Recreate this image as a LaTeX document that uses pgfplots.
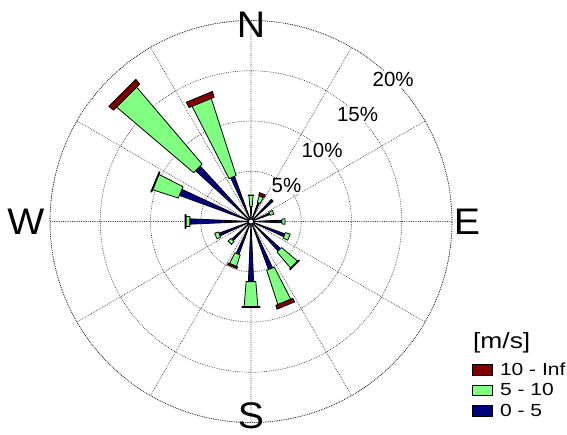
\documentclass[border=0pt]{standalone}
\usepackage{pgfplots}
\pgfplotsset{compat=1.18}
\usepackage{pgfplotstable}
\usepgfplotslibrary{polar}
\usepackage{fontspec}
\setmainfont{Liberation Sans}
\newfontfamily\legfont[FakeStretch=1.2]{Liberation Sans}
\newfontfamily\dirfont[FakeStretch=1.06]{Liberation Sans}

\definecolor{windred}{RGB}{128,0,0}
\definecolor{windgreen}{RGB}{128,255,128}
\definecolor{windblue}{RGB}{0,0,128}

% dir = compass direction (deg from N, clockwise), r0/r1 = inner/outer frequency in %
\pgfplotstableread{
dir r0 r1
0 0 1.5
22.5 0 2.0
45 0 3.0
67.5 0 2.0
90 0 3.1
112.5 0 3.6
135 0 4.0
157.5 0 5.1
180 0 6.0
202.5 0 3.5
225 0 2.6
247.5 0 3.4
270 0 6.1
292.5 0 7.6
315 0 7.5
337.5 0 4.8
}\lowspeed

\pgfplotstableread{
dir r0 r1
0 1.5 2.6
22.5 2.0 2.7
67.5 2.0 2.4
90 3.1 3.4
112.5 3.6 4.1
135 4.0 6.1
157.5 5.1 8.7
180 6.0 8.5
202.5 3.5 4.7
225 2.6 3.0
247.5 3.4 3.8
270 6.1 6.5
292.5 7.6 10.3
315 7.5 17.6
337.5 4.8 12.9
}\midspeed

\pgfplotstableread{
dir r0 r1
0 2.6 2.65
22.5 2.7 3.0
135 6.1 6.2
157.5 8.7 9.1
180 8.5 8.6
202.5 4.7 4.9
270 6.5 6.6
292.5 10.3 10.4
315 17.6 18.2
337.5 12.9 13.5
}\highspeed

% one sector per row; #3 = half width in degrees
\newcommand\drawpetals[3]{%
  \pgfplotstablegetrowsof{#1}%
  \pgfmathtruncatemacro\nrows{\pgfplotsretval-1}%
  \pgfplotsforeachungrouped \i in {0,...,\nrows}{%
    \pgfplotstablegetelem{\i}{dir}\of{#1}\let\pdir\pgfplotsretval
    \pgfplotstablegetelem{\i}{r0}\of{#1}\let\ra\pgfplotsretval
    \pgfplotstablegetelem{\i}{r1}\of{#1}\let\rb\pgfplotsretval
    \pgfmathsetmacro\aL{90-\pdir+#3}%
    \pgfmathsetmacro\aR{90-\pdir-#3}%
    \edef\tmp{\noexpand\addplot[draw=black,line width=0.8pt,line join=round,fill=#2,forget plot]
      coordinates {(\aL,\ra) (\aR,\ra) (\aR,\rb) (\aL,\rb)} --cycle;}%
    \tmp
  }%
}

\begin{document}
\begin{tikzpicture}
\useasboundingbox (-251pt,-213.5pt) rectangle (316pt,221.5pt);
\begin{polaraxis}[
  at={(0,0)}, anchor=center,
  width=402pt, height=402pt, scale only axis,
  clip=false,
  ymin=0, ymax=20,
  xtick={0,30,...,330}, ytick={5,10,15,20},
  xticklabels={}, yticklabels={},
  major tick length=0pt,
  grid=major,
  major grid style={black!85, line width=0.6pt, dash pattern=on 0.7pt off 1.1pt},
  x axis line style={black!85, line width=0.6pt, dash pattern=on 0.7pt off 1.1pt},
  y axis line style={draw=none},
  legend image code/.code={\draw[#1,line width=0.8pt] (0pt,-5pt) rectangle (20pt,5.5pt);},
  legend style={at={(axis description cs:1.0498,0.0796)}, anchor=west,
    draw=none, fill=none, inner sep=0pt, row sep=2.5pt, column sep=5pt,
    font=\legfont\fontsize{17.5}{17.5}\selectfont,
    cells={anchor=west, inner sep=0pt, text height=12.5pt, text depth=0pt}},
]
\addlegendimage{draw=black,fill=windred}
\addlegendentry{10 - Inf}
\addlegendimage{draw=black,fill=windgreen}
\addlegendentry{5 - 10}
\addlegendimage{draw=black,fill=windblue}
\addlegendentry{0 - 5}

\drawpetals{\lowspeed}{windblue}{2.5}
\drawpetals{\midspeed}{windgreen}{4.6}
\drawpetals{\highspeed}{windred}{6.0}

\addplot[only marks, mark=*, mark size=2.5pt, mark options={fill=white, draw=black, line width=0.8pt}, forget plot]
  coordinates {(0,0)};

\pgfplotsinvokeforeach{5,10,15,20}{
  \node[fill=white, inner sep=1pt, font=\fontsize{20.5}{20.5}\selectfont] at (axis cs:45,#1) {#1\%};
}
\node[font=\dirfont\fontsize{37}{37}\selectfont] at (axis cs:90,19.55) {N};
\node[font=\dirfont\fontsize{37}{37}\selectfont] at (axis cs:270,19.3) {S};
\node[font=\dirfont\fontsize{37}{37}\selectfont] at (axis cs:180,22.4) {W};
\node[font=\dirfont\fontsize{37}{37}\selectfont] at (axis cs:0,21.5) {E};
\node[anchor=west, inner sep=0pt, font=\legfont\fontsize{22}{22}\selectfont] at (axis description cs:1.052,0.198) {[m/s]};
\end{polaraxis}
\end{tikzpicture}
\end{document}
